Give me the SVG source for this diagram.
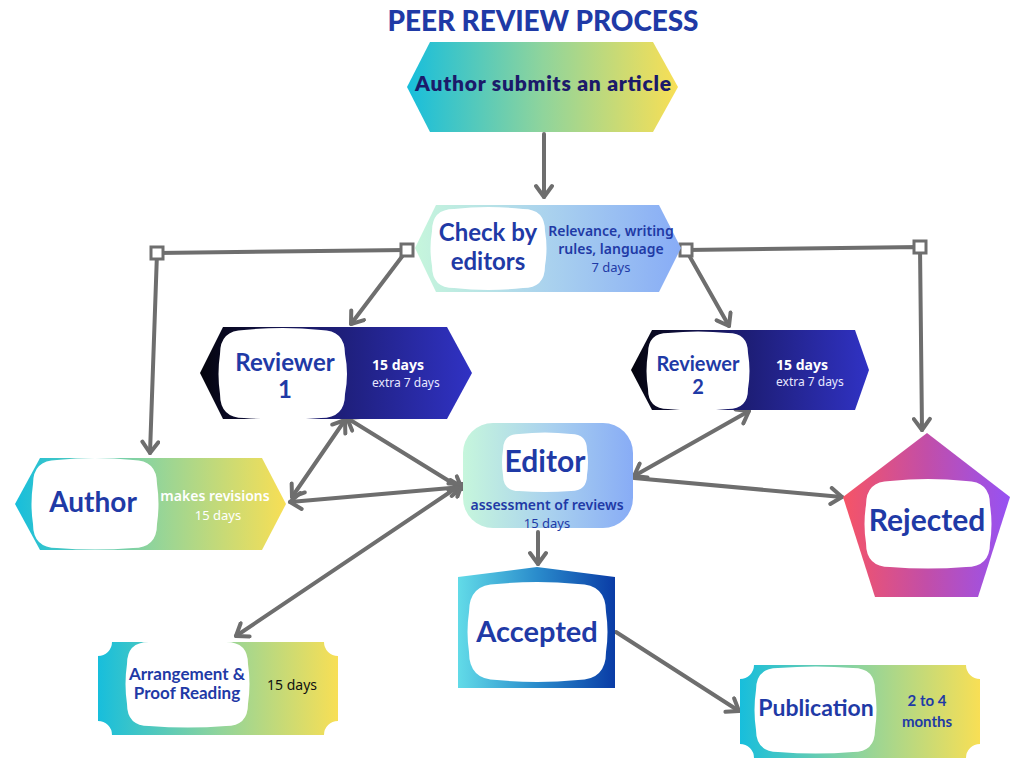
<svg xmlns="http://www.w3.org/2000/svg" width="1024" height="768" viewBox="0 0 1024 768">
<style>
.h{font-family:Lato,"Liberation Sans",sans-serif;font-weight:700;fill:#1f3aa6;text-anchor:middle}
.s{font-family:"Noto Sans","Liberation Sans",sans-serif;text-anchor:middle}
.blob{fill:#ffffff}
.c{fill:none;stroke:#6e6e6e;stroke-width:4;stroke-linecap:round;stroke-linejoin:round}
.sq{fill:#ffffff;stroke:#6e6e6e;stroke-width:3}
</style>
<defs>
<linearGradient id="gCY" x1="0" y1="0" x2="1" y2="0"><stop offset="0" stop-color="#17bedc"/><stop offset="0.5" stop-color="#8fd49c"/><stop offset="1" stop-color="#f8df55"/></linearGradient>
<linearGradient id="gMB" x1="0" y1="0" x2="1" y2="0"><stop offset="0" stop-color="#c6f6dc"/><stop offset="0.5" stop-color="#aad2ee"/><stop offset="1" stop-color="#88acf6"/></linearGradient>
<linearGradient id="gNV" x1="0" y1="0" x2="1" y2="0"><stop offset="0" stop-color="#04040c"/><stop offset="0.4" stop-color="#1a1a68"/><stop offset="1" stop-color="#3032c4"/></linearGradient>
<linearGradient id="gRJ" x1="0" y1="0" x2="1" y2="0"><stop offset="0" stop-color="#f65466"/><stop offset="0.5" stop-color="#c24ea8"/><stop offset="1" stop-color="#9652f4"/></linearGradient>
<linearGradient id="gAC" x1="0" y1="0" x2="1" y2="0"><stop offset="0" stop-color="#62dbe8"/><stop offset="0.5" stop-color="#2a8ccc"/><stop offset="1" stop-color="#0a3ca6"/></linearGradient>
<marker id="ar" viewBox="-14 -10 18 20" refX="0" refY="0" markerWidth="18" markerHeight="20" markerUnits="userSpaceOnUse" orient="auto-start-reverse">
<path d="M-11,-8 L0,0 L-11,8" fill="none" stroke="#6e6e6e" stroke-width="4" stroke-linecap="round" stroke-linejoin="round"/>
</marker>
</defs>

<text x="543" y="31" class="h" style="font-weight:900;font-size:28px" textLength="311">PEER REVIEW PROCESS</text>

<g id="connectors">
<line class="c" x1="544" y1="134" x2="544" y2="197" marker-end="url(#ar)"/>
<polyline class="c" points="407,250 157,253 150,453" marker-end="url(#ar)"/>
<line class="c" x1="407" y1="250" x2="351" y2="324" marker-end="url(#ar)"/>
<polyline class="c" points="686,250 920,247 922,430" marker-end="url(#ar)"/>
<line class="c" x1="686" y1="250" x2="729" y2="326" marker-end="url(#ar)"/>
<line class="c" x1="347" y1="418" x2="462" y2="489" marker-start="url(#ar)" marker-end="url(#ar)"/>
<line class="c" x1="345" y1="420" x2="292" y2="497" marker-start="url(#ar)" marker-end="url(#ar)"/>
<line class="c" x1="290" y1="502" x2="462" y2="487" marker-start="url(#ar)" marker-end="url(#ar)"/>
<line class="c" x1="236" y1="636" x2="462" y2="484" marker-start="url(#ar)" marker-end="url(#ar)"/>
<line class="c" x1="749" y1="411" x2="634" y2="476" marker-start="url(#ar)" marker-end="url(#ar)"/>
<line class="c" x1="634" y1="478" x2="842" y2="497" marker-end="url(#ar)"/>
<line class="c" x1="538" y1="532" x2="538" y2="564" marker-end="url(#ar)"/>
<line class="c" x1="616" y1="632" x2="739" y2="711" marker-end="url(#ar)"/>
<rect class="sq" x="401" y="244" width="12" height="12"/>
<rect class="sq" x="151" y="247" width="12" height="12"/>
<rect class="sq" x="680" y="244" width="12" height="12"/>
<rect class="sq" x="914" y="241" width="12" height="12"/>
</g>

<g id="submit">
<polygon points="407,87 430,42 653,42 678,87 653,132 430,132" fill="url(#gCY)"/>
<text x="543" y="91" class="h" style="font-size:21px;font-weight:800;fill:#1b1a6a" textLength="256">Author submits an article</text>
</g>

<g id="check">
<polygon points="415,248 436,205 659,205 681,248 659,292 436,292" fill="url(#gMB)"/>
<path class="blob" d="M454,209 Q488,205 523,209 Q545,209 545,231 Q548,248 545,266 Q545,288 523,288 Q488,292 454,288 Q432,288 432,266 Q429,248 432,231 Q432,209 454,209 Z"/>
<text x="488" y="241" class="h" style="font-size:24px">Check by</text>
<text x="488" y="270" class="h" style="font-size:24px">editors</text>
<text x="611" y="236" class="s" style="font-size:14px;font-weight:600;fill:#1f3aa6">Relevance, writing</text>
<text x="611" y="254" class="s" style="font-size:14px;font-weight:600;fill:#1f3aa6">rules, language</text>
<text x="611" y="272" class="s" style="font-size:13px;fill:#1f3aa6">7 days</text>
</g>

<g id="reviewer1">
<polygon points="200,373 223,327 447,327 472,373 447,419 223,419" fill="url(#gNV)"/>
<path class="blob" d="M244,330 Q283,326 321,330 Q345,330 345,354 Q349,374 345,394 Q345,418 321,418 Q283,421 244,418 Q220,418 220,394 Q217,374 220,354 Q220,330 244,330 Z"/>
<text x="285" y="371" class="h" style="font-size:24px">Reviewer</text>
<text x="285" y="398" class="h" style="font-size:24px">1</text>
<text x="372" y="370" class="s" style="font-size:14px;font-weight:700;fill:#ffffff;text-anchor:start">15 days</text>
<text x="372" y="387" class="s" style="font-size:12px;fill:#e8e8ff;text-anchor:start">extra 7 days</text>
</g>

<g id="reviewer2">
<polygon points="631,370 652,330 855,330 869,370 855,410 652,410" fill="url(#gNV)"/>
<path class="blob" d="M668,333 Q698,330 728,333 Q748,333 748,353 Q751,371 748,389 Q748,409 728,409 Q698,412 668,409 Q648,409 648,389 Q645,371 648,353 Q648,333 668,333 Z"/>
<text x="698" y="371" class="h" style="font-size:20px">Reviewer</text>
<text x="698" y="394" class="h" style="font-size:20px">2</text>
<text x="776" y="370" class="s" style="font-size:14px;font-weight:700;fill:#ffffff;text-anchor:start">15 days</text>
<text x="776" y="386" class="s" style="font-size:12px;fill:#e8e8ff;text-anchor:start">extra 7 days</text>
</g>

<g id="author">
<polygon points="15,504 40,458 262,458 286,504 262,550 40,550" fill="url(#gCY)"/>
<path class="blob" d="M57,460 Q95,456 133,460 Q157,460 157,484 Q160,504 157,524 Q157,548 133,548 Q95,551 57,548 Q33,548 33,524 Q30,504 33,484 Q33,460 57,460 Z"/>
<text x="93" y="512" class="h" style="font-size:28px">Author</text>
<text x="215" y="501" class="s" style="font-size:14px;font-weight:600;fill:#ffffff">makes revisions</text>
<text x="218" y="520" class="s" style="font-size:13px;fill:#ffffff">15 days</text>
</g>

<g id="editor">
<rect x="463" y="423" width="170" height="105" rx="30" fill="url(#gMB)"/>
<path class="blob" d="M519,434 Q545,431 571,434 Q587,434 587,450 Q589,462 587,475 Q587,491 571,491 Q545,493 519,491 Q503,491 503,475 Q501,462 503,450 Q503,434 519,434 Z"/>
<text x="545" y="472" class="h" style="font-size:30px">Editor</text>
<text x="547" y="510" class="s" style="font-size:14px;font-weight:600;fill:#1f3aa6">assessment of reviews</text>
<text x="547" y="528" class="s" style="font-size:13px;fill:#1f3aa6">15 days</text>
</g>

<g id="rejected">
<polygon points="927,433 1010,497 978,597 875,597 843,497" fill="url(#gRJ)"/>
<path class="blob" d="M890,481 Q928,477 966,481 Q990,481 990,505 Q993,524 990,543 Q990,567 966,567 Q928,570 890,567 Q866,567 866,543 Q863,524 866,505 Q866,481 890,481 Z"/>
<text x="927" y="531" class="h" style="font-size:30px">Rejected</text>
</g>

<g id="accepted">
<polygon points="458,577 537,567 615,577 615,688 458,688" fill="url(#gAC)"/>
<path class="blob" d="M497,584 Q537,580 578,584 Q606,584 606,612 Q609,632 606,652 Q606,680 578,680 Q537,684 497,680 Q469,680 469,652 Q466,632 469,612 Q469,584 497,584 Z"/>
<text x="537" y="642" class="h" style="font-size:29px">Accepted</text>
</g>

<g id="arrangement">
<path d="M112,642 H324 A14 14 0 0 0 338,656 V721 A14 14 0 0 0 324,735 H112 A14 14 0 0 0 98,721 V656 A14 14 0 0 0 112,642 Z" fill="url(#gCY)"/>
<path class="blob" d="M149,642 Q188,639 226,642 Q248,642 248,664 Q251,684 248,704 Q248,726 226,726 Q188,729 149,726 Q127,726 127,704 Q124,684 127,664 Q127,642 149,642 Z"/>
<text x="187" y="680" class="h" style="font-size:17px">Arrangement &amp;</text>
<text x="187" y="699" class="h" style="font-size:17px">Proof Reading</text>
<text x="292" y="690" class="s" style="font-size:14px;fill:#111111">15 days</text>
</g>

<g id="publication">
<path d="M754,665 H966 A14 14 0 0 0 980,679 V744 A14 14 0 0 0 966,758 H754 A14 14 0 0 0 740,744 V679 A14 14 0 0 0 754,665 Z" fill="url(#gCY)"/>
<path class="blob" d="M778,668 Q816,665 853,668 Q875,668 875,690 Q878,710 875,730 Q875,752 853,752 Q816,755 778,752 Q756,752 756,730 Q753,710 756,690 Q756,668 778,668 Z"/>
<text x="816" y="716" class="h" style="font-size:23px">Publication</text>
<text x="927" y="706" class="h" style="font-size:15px">2 to 4</text>
<text x="927" y="727" class="h" style="font-size:15px">months</text>
</g>
</svg>
